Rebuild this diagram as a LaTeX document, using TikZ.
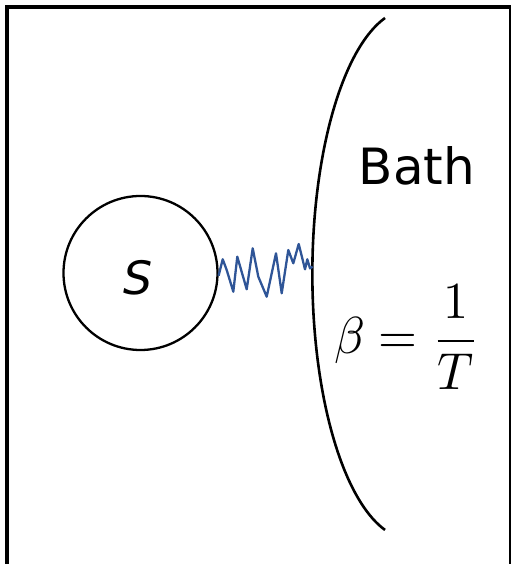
\documentclass[tikz,border=0pt]{standalone}
\usepackage{fontspec}
\setsansfont{DejaVu Sans}
\definecolor{wave}{HTML}{2F5597}
\begin{document}
\begin{tikzpicture}[x=1pt,y=1pt,
  frame/.style={line width=4pt,line cap=butt},
  sysbox/.style={circle,draw,line width=2.3pt,minimum size=154pt,inner sep=0pt},
  lbl/.style={font=\sffamily\fontsize{50}{60}\selectfont},
  wavy/.style={draw=wave,line width=2.3pt,line join=round}]
\useasboundingbox (0,0) rectangle (511,564);
% frame
\draw[frame] (7,0) -- (7,557) -- (511,557);
\draw[line width=1.5pt] (509.8,557) -- (509.8,0);
% system
\node[sysbox] (s) at (140.5,291) {};
\node[lbl,font=\sffamily\itshape\fontsize{46}{50}\selectfont] (slabel) at (138,286) {S};
% bath boundary
\coordinate (btop) at (385,546);
\draw[line width=2.6pt] (btop) arc[start angle=105, end angle=255, x radius=98, y radius=265] coordinate (bbot);
\coordinate (bedge) at (312.7,297.3);
% coupling
\draw[wavy] (s.-2) -- (222.7,304.7) -- (226.7,294) -- (233.3,272.3) -- (237.3,307.3)
 -- (246.7,274.7) -- (252.7,315.7) -- (258.3,287.3) -- (266.7,267.3) -- (276,310.7)
 -- (281.7,270.7) -- (288.3,314) -- (293.3,300.7) -- (298.7,320) -- (305,294.7)
 -- (307.3,304.7) -- (310,295.7) -- (bedge);
% labels
\node[lbl,anchor=base] (bath) at (417,379) {Bath};
\node[anchor=base,xscale=5.0,yscale=5.2,inner sep=0pt] (beta) at (407,210) {$\displaystyle\beta=\frac{1}{T}$};
\end{tikzpicture}
\end{document}
